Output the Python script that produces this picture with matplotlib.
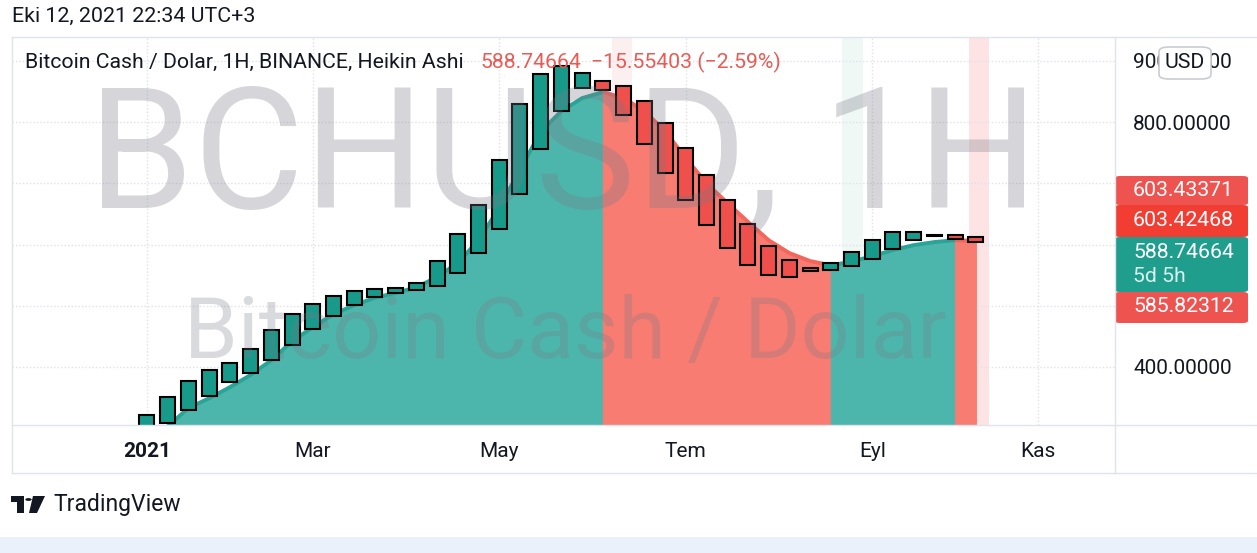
import numpy as np
import pandas as pd
import matplotlib
matplotlib.use("Agg")
import matplotlib.pyplot as plt
import matplotlib.dates as mdates
from matplotlib.patches import Rectangle, FancyBboxPatch, Polygon, Circle

FONT = ["Roboto", "DejaVu Sans"]
plt.rcParams["font.family"] = FONT

# ----------------------------------------------------------------------
# Weekly Heikin Ashi bars (BCH/USD, 2021)
# ----------------------------------------------------------------------
first_week = "2021-01-04"
ha_open = [294, 308, 329, 353, 375, 391, 411, 436, 462, 483,
           501, 514, 521, 526, 532, 553, 586, 625, 682, 756,
           818, 855, 867, 859, 834, 798, 757, 714, 673, 633,
           598, 575, 561, 558, 565, 576, 592, 607, 614, 615, 611.6]
ha_close = [322, 351, 377, 395, 406, 429, 460, 486, 503, 516,
            524, 527, 529, 537, 573, 617, 664, 738, 829, 878,
            891, 880, 852, 811, 764, 717, 673, 632, 594, 566,
            550, 547, 557, 570, 588, 607, 620, 620, 615, 609, 603.4]

# smoothed line drawn as the coloured area behind the candles
area_line = [270, 303, 333, 349, 367, 387, 411, 442, 465, 486,
             501, 513, 521, 530, 547, 570, 607, 660, 722, 784,
             818, 839, 849, 839, 818, 785, 741, 700, 668, 637,
             607, 586, 573, 566, 572, 581, 591, 599, 604, 607, 606]

month_ticks = ["2021-01-04", "2021-03-01", "2021-05-03",
               "2021-07-05", "2021-09-06", "2021-11-01"]
month_labels = ["2021", "Mar", "May", "Tem", "Eyl", "Kas"]

price_ticks = [400, 500, 600, 700, 800, 900]
price_tick_labels = ["400.00000", "", "", "", "800.00000", "900.00000"]

scale_values = ["603.43371", "603.42468", "588.74664\n5d 5h", "585.82312"]
scale_colors = ["#ef5350", "#f23d33", "#1f9e8e", "#ef5350"]

header_date = "Eki 12, 2021 22:34 UTC+3"
legend_title = "Bitcoin Cash / Dolar, 1H, BINANCE, Heikin Ashi"
legend_last = "588.74664"
legend_change = "\u221215.55403 (\u22122.59%)"

# ----------------------------------------------------------------------
W, H = 1257, 553
TEAL_FILL, RED_FILL = "#4db6ac", "#f87c72"
TEAL_LINE, RED_LINE = "#2aa496", "#f2665c"
TEAL_BAR, RED_BAR = "#179a8a", "#f0504b"
GRID = "#dfe2ea"
TXT = "#131722"


def fx(px):
    return px / W


def fy(py):
    return 1 - py / H


fig = plt.figure(figsize=(W / 100, H / 100), dpi=100)
ax = fig.add_axes([fx(12), fy(425), fx(1115 - 12), (425 - 37) / H])

dates = pd.date_range(first_week, periods=len(ha_open), freq="7D")
xs = mdates.date2num(dates)
ha_open = np.array(ha_open)
ha_close = np.array(ha_close)
area = np.array(area_line)

ax.set_ylim(305.3, 938.8)
ax.set_xlim(xs[0] - 45.6, xs[0] + 327.0)

# faint highlight stripes (present in the capture)
ax.axvspan(xs[40] - 2.4, xs[40] + 4.3, color="#fde3e3", lw=0, zorder=0.5)
ax.axvspan(xs[33] + 3.8, xs[34] + 3.9, color="#f0f8f5", lw=0, zorder=0.5)
ax.axvspan(xs[22] + 3.1, xs[23] + 2.9, color="#fbefef", lw=0, zorder=0.5)

# area coloured by direction of the line, one fill per rising/falling run
rising = np.diff(area) >= 0
start = 0
for i in range(1, len(rising) + 1):
    if i == len(rising) or rising[i] != rising[start]:
        seg = slice(start, i + 1)
        up = rising[start]
        col = TEAL_FILL if up else RED_FILL
        ax.fill_between(xs[seg], area[seg], 0, facecolor=col, edgecolor=col,
                        lw=0.8, zorder=2)
        ax.plot(xs[seg], area[seg], color=TEAL_LINE if up else RED_LINE,
                lw=2.8, zorder=2.2, solid_capstyle="butt",
                solid_joinstyle="round")
        start = i

# watermark texts (above the area, under the candles)
fig.text(fx(563.5), fy(208), "BCHUSD, 1H", ha="center", va="baseline",
         fontsize=122, color=(0.47, 0.48, 0.53), alpha=0.3, zorder=3)
fig.text(fx(565), fy(358), "Bitcoin Cash / Dolar", ha="center",
         va="baseline", fontsize=62, color=(0.47, 0.48, 0.53), alpha=0.28,
         zorder=3)

# candles
up_bar = ha_close >= ha_open
colors = np.where(up_bar, TEAL_BAR, RED_BAR)
ax.bar(xs, ha_close - ha_open, bottom=ha_open, width=5.07, color=colors,
       edgecolor="black", linewidth=1.5, zorder=4)

# grid and scales
ax.set_xticks(mdates.date2num(pd.to_datetime(month_ticks)))
ax.set_xticklabels(month_labels)
ax.set_yticks(price_ticks)
ax.set_yticklabels(price_tick_labels)
ax.yaxis.tick_right()
ax.grid(True, color=GRID, linestyle=(0, (1, 1.5)), lw=1, zorder=0)
ax.tick_params(axis="x", length=0, pad=12, labelsize=15, labelcolor=TXT)
ax.tick_params(axis="y", length=0, pad=13, labelsize=15, labelcolor=TXT)
ax.get_xticklabels()[0].set_fontweight("bold")
for s in ax.spines.values():
    s.set_visible(False)

# frame lines of the widget
frame = dict(color="#e0e3eb", lw=1, transform=fig.transFigure)
fig.add_artist(plt.Line2D([fx(12), fx(12)], [fy(37), fy(473)], **frame))
fig.add_artist(plt.Line2D([fx(1115), fx(1115)], [fy(37), fy(473)], **frame))
fig.add_artist(plt.Line2D([fx(12), fx(1257)], [fy(425), fy(425)], **frame))
fig.add_artist(plt.Line2D([fx(12), fx(1257)], [fy(473), fy(473)], **frame))
fig.add_artist(plt.Line2D([fx(12), fx(1257)], [fy(37), fy(37)], **frame))

# header texts
fig.text(fx(12), fy(16), header_date, ha="left", va="center",
         fontsize=15.4, color=TXT)
fig.text(fx(25), fy(62), legend_title, ha="left", va="center",
         fontsize=15.3, color=TXT, zorder=6)
fig.text(fx(480), fy(62), legend_last, ha="left", va="center",
         fontsize=15.3, color="#ea5b55", zorder=6)
fig.text(fx(591), fy(62), legend_change, ha="left", va="center",
         fontsize=15.3, color="#ea5b55", zorder=6)

# price-scale labels
box_tops = [176, 205, 237, 292]
box_bots = [205, 237, 292, 323]
for val, col, t, b in zip(scale_values, scale_colors, box_tops, box_bots):
    fig.add_artist(FancyBboxPatch((fx(1115), fy(b)), fx(1248 - 1115),
                                  (b - t) / H,
                                  boxstyle="round,pad=0,rounding_size=0.004",
                                  transform=fig.transFigure, fc=col, ec="none"))
    lines = val.split("\n")
    for k, line in enumerate(lines):
        fig.text(fx(1133), fy(t + 15 + 25 * k), line, ha="left",
                 va="center", fontsize=15.3,
                 color="white" if k == 0 else "#d7f0ec")

# USD currency box over the 900 label
fig.add_artist(FancyBboxPatch((fx(1159), fy(79)), fx(52), 32 / H,
                              boxstyle="round,pad=0,rounding_size=0.008",
                              transform=fig.transFigure, fc="white",
                              ec="#c9ccd3", lw=1.2))
fig.text(fx(1185), fy(62.5), "USD", ha="center", va="center",
         fontsize=15.3, color=TXT)

# TradingView logo
logo = dict(transform=fig.transFigure, fc="#131722", ec="none")
fig.add_artist(Polygon([(fx(11), fy(496)), (fx(24), fy(496)), (fx(24), fy(513)),
                        (fx(17), fy(513)), (fx(17), fy(502)), (fx(11), fy(502))],
                       **logo))
fig.add_artist(Polygon([(fx(33), fy(496)), (fx(45), fy(496)), (fx(37), fy(513)),
                        (fx(29), fy(513))], **logo))
fig.add_artist(Circle((fx(28.5), fy(499.5)), 3.2 / W, **logo))
fig.text(fx(53), fy(505), "TradingView", ha="left", va="center",
         fontsize=16.5, color=TXT)

# bottom strip
fig.add_artist(Rectangle((0, 0), 1, 16 / H, transform=fig.transFigure,
                         fc="#eaf1fb", ec="none"))

fig.savefig("out.png", dpi=100)
